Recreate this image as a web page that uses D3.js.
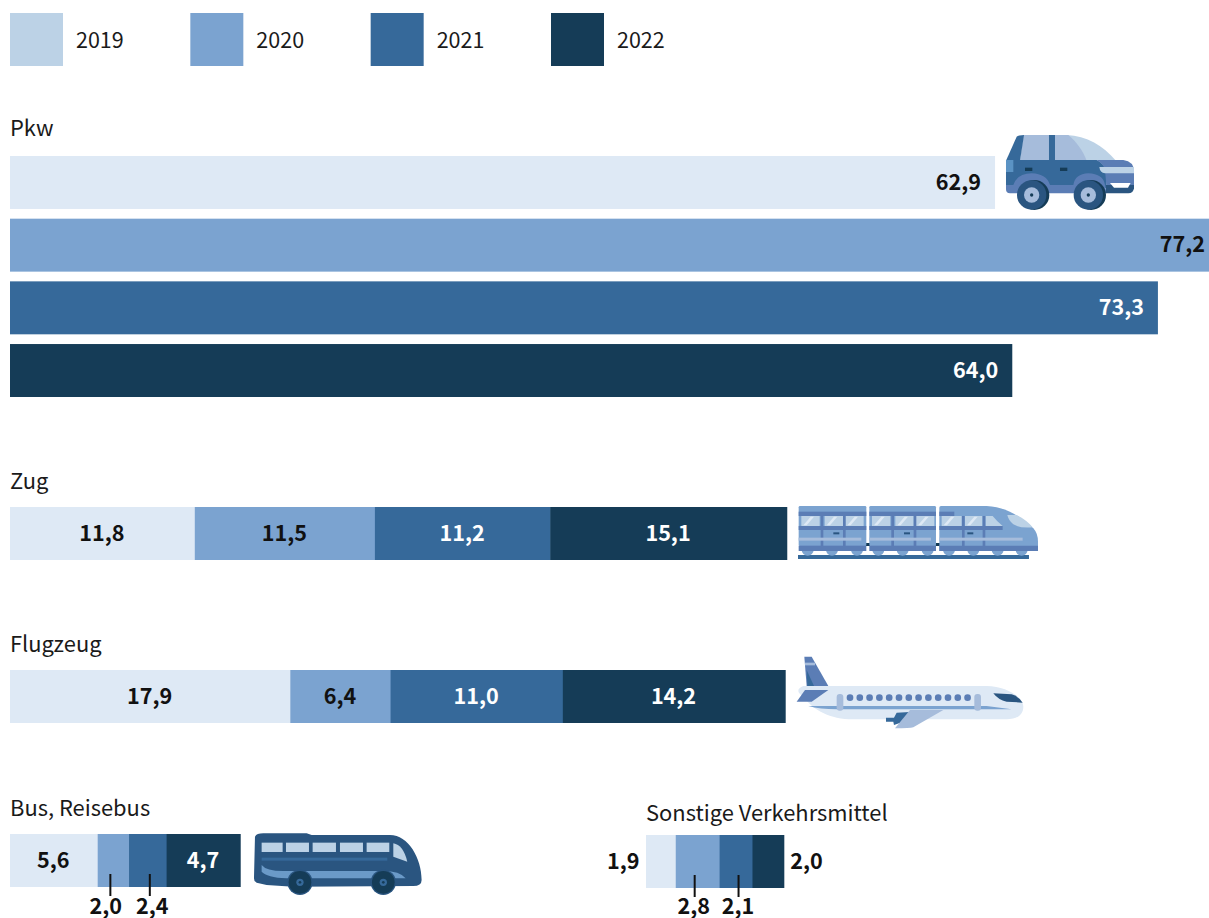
<!DOCTYPE html>
<html>
<head>
<meta charset="utf-8">
<script src="https://cdn.jsdelivr.net/npm/d3@7"></script>
<style>
  html, body { margin: 0; padding: 0; background: #fff; overflow: hidden; }
  svg { display: block; font-family: "Noto Sans CJK SC", "Noto Sans", sans-serif; }
  .title { font-size: 21.9px; fill: #1a1a1a; }
  .legend-label { font-size: 21.5px; fill: #1a1a1a; }
  .value { font-size: 21.6px; font-weight: 700; }
</style>
</head>
<body>
<svg id="chart" width="1209" height="918"></svg>
<script>
const years = ['2019', '2020', '2021', '2022']
const pkw = [62.9, 77.2, 73.3, 64.0]
const zug = [11.8, 11.5, 11.2, 15.1]
const flugzeug = [17.9, 6.4, 11.0, 14.2]
const bus = [5.6, 2.0, 2.4, 4.7]
const sonstige = [1.9, 2.8, 2.1, 2.0]

const colors = ['#dee9f5', '#7ba3d0', '#36699a', '#153c57']
const legendColors = ['#bcd2e6', '#7ba3d0', '#36699a', '#153c57']
const labelColors = ['#111', '#111', '#fff', '#fff']
const svg = d3.select('#chart')

const color = d3.scaleOrdinal().domain(years).range(colors)
const legendColor = d3.scaleOrdinal().domain(years).range(legendColors)
const labelColor = d3.scaleOrdinal().domain(years).range(labelColors)
const width = d3.scaleLinear().domain([0, 77.2]).range([0, 1209])
const fmt = (v) => v.toFixed(1).replace('.', ',')

// legend
const legendX = d3.scalePoint().domain(years).range([10, 551])
const legend = svg.selectAll('.legend').data(years).enter().append('g')
  .attr('transform', (d) => 'translate(' + legendX(d) + ',13)')
legend.append('rect').attr('width', 53).attr('height', 53).attr('fill', (d) => legendColor(d))
legend.append('text').attr('class', 'legend-label').attr('x', 66).attr('y', 35).text((d) => d)

let title = (text, x, y) => svg.append('text').attr('class', 'title').attr('x', x).attr('y', y).text(text)
let valueText = (text, x, y, anchor, fill) => svg.append('text').attr('class', 'value')
  .attr('x', x).attr('y', y).attr('text-anchor', anchor).attr('fill', fill).text(text)

// Pkw: one bar per year
title('Pkw', 10, 136)
const pkwY = d3.scaleBand().domain(years).range([156, 397]).paddingInner(0.155)
pkw.forEach((v, i) => {
  let y = years[i]
  let w = width(v)
  svg.append('rect').attr('x', 10).attr('y', pkwY(y)).attr('width', w).attr('height', pkwY.bandwidth()).attr('fill', color(y))
  valueText(fmt(v), Math.min(10 + w - 14, 1209), pkwY(y) + 33.5, 'end', labelColor(y))
})

// stacked rows
let stacked = (values, x0, y0, inside) => {
  let cum = d3.cumsum(values)
  return values.map((v, i) => {
    let x = x0 + width(cum[i] - v)
    let w = width(v)
    let y = years[i]
    svg.append('rect').attr('x', x).attr('y', y0).attr('width', w + 0.5).attr('height', 53).attr('fill', color(y))
    if (inside[i]) valueText(fmt(v), x + w / 2 - 0.5, y0 + 33.5, 'middle', labelColor(y))
    return { x: x, w: w, v: v, mid: x + w / 2 }
  })
}

title('Zug', 10, 489)
stacked(zug, 10, 507, [1, 1, 1, 1])
title('Flugzeug', 10, 652)
stacked(flugzeug, 10, 670, [1, 1, 1, 1])

let leader = (seg, dx, textDx, y0) => {
  svg.append('line').attr('x1', seg.mid + dx).attr('x2', seg.mid + dx).attr('y1', y0 + 40).attr('y2', y0 + 62)
    .attr('stroke', '#111').attr('stroke-width', 2)
  valueText(fmt(seg.v), seg.mid + textDx, 913.5, 'middle', '#111')
}

title('Bus, Reisebus', 10, 816)
const busSegs = stacked(bus, 10, 834, [1, 0, 0, 1])
leader(busSegs[1], -3, -7.5, 834)
leader(busSegs[2], 2, 4.5, 834)

title('Sonstige Verkehrsmittel', 646, 821)
const otherSegs = stacked(sonstige, 646, 835, [0, 0, 0, 0])
leader(otherSegs[1], -3, -4, 835)
leader(otherSegs[2], 2.5, 2, 835)
valueText(fmt(sonstige[0]), otherSegs[0].x - 6.5, 868.5, 'end', '#111')
valueText(fmt(sonstige[3]), otherSegs[3].x + otherSegs[3].w + 6.5, 868.5, 'start', '#111')

// icons, drawn in 3x zoom coordinates
const c1 = '#bcd2e6', c2 = '#a6bcdb', c3 = '#7ba3d0', c4 = '#5b7db5', c5 = '#36699a', c6 = '#2a5580', c7 = '#153c57'
let icon = (x, y) => svg.append('g').attr('transform', 'translate(' + x + ',' + y + ') scale(0.3333)')
let path = (g, d, fill) => g.append('path').attr('d', d).attr('fill', fill)
let box = (g, x, y, w, h, fill, r) => g.append('rect').attr('x', x).attr('y', y).attr('width', w).attr('height', h).attr('fill', fill).attr('rx', r || 0)
let dot = (g, x, y, r, fill) => g.append('circle').attr('cx', x).attr('cy', y).attr('r', r).attr('fill', fill)

// car
let car = icon(990, 120)
path(car, 'M200,45 L230,45 C290,47 340,78 378,122 L200,122 Z', c1)
path(car, 'M100,45 L235,45 C260,65 280,95 290,122 L90,122 Z', c2)
path(car, 'M80,50 Q85,45 102,45 L90,122 L48,122 Z', c5)
box(car, 177, 45, 18, 78, c5)
path(car, 'M48,120 L320,120 Q345,130 350,160 L350,205 L48,205 Z', c5)
path(car, 'M320,120 L400,120 Q432,124 432,155 L432,205 L350,205 L345,150 Q340,130 320,120 Z', c4)
box(car, 48, 120, 22, 36, '#5b93c4')
path(car, 'M328,141 L432,141 L432,160 L345,160 Q330,158 328,141 Z', c1)
path(car, 'M48,195 L70,195 Q80,162 125,160 Q170,162 180,195 L250,195 Q255,162 295,160 Q340,162 345,195 L350,220 L60,220 Q48,220 48,208 Z', c4)
path(car, 'M348,195 L432,195 L432,205 Q430,220 415,220 L348,220 Z', c6)
path(car, 'M360,189 L422,189 L414,203 L372,203 Z', '#fff')
box(car, 105, 143, 22, 10, c7)
box(car, 210, 143, 22, 10, c7)
;[125, 295].forEach((cx) => {
  dot(car, cx + 8, 225, 45, c7)
  dot(car, cx, 225, 44, c6)
  dot(car, cx, 225, 23, c2)
  dot(car, cx, 225, 5, c7)
})

// train
let train = icon(790, 495)
let glare = (x, y) => path(train, 'M' + (x + 6) + ',' + (y + 28) + ' L' + (x + 28) + ',' + (y + 2) + ' L' + (x + 38) + ',' + (y + 2) + ' L' + (x + 16) + ',' + (y + 28) + ' Z', '#dee9f5')
box(train, 24, 180, 693, 12, c5)
box(train, 226, 144, 14, 9, c7)
box(train, 436, 144, 14, 9, c7)
;[[26, 203], [238, 200]].forEach((p) => {
  let x = p[0], w = p[1]
  ;[27, 100, 175].forEach((o) => dot(train, x + o, 164, 18, c3))
  box(train, x, 33, w, 120, c3, 4)
  box(train, x, 50, w, 13, c4)
  box(train, x, 93, w, 12, c4)
  ;[8, 78, 140].forEach((o) => { box(train, x + o, 63, 55, 30, c1); glare(x + o, 63) })
  box(train, x + 66, 63, 8, 90, c4)
  box(train, x + 133, 63, 8, 90, c4)
  box(train, x, 128, w - 15, 9, c2)
  box(train, x, 152, w, 16, c4)
  box(train, x + 104, 112, 18, 6, c6)
})
;[477, 550, 623, 695].forEach((cx) => dot(train, cx, 164, 18, c3))
path(train, 'M448,38 Q448,33 453,33 L590,33 C650,35 700,70 730,100 Q744,115 744,140 L744,168 L448,168 Z', c3)
box(train, 448, 50, 45, 13, c4)
box(train, 448, 93, 190, 12, c4)
path(train, 'M448,152 L744,152 L744,168 L448,168 Z', c4)
box(train, 455, 63, 60, 30, c1)
glare(455, 63)
box(train, 525, 63, 52, 30, c1)
glare(525, 63)
path(train, 'M587,63 L608,63 Q620,78 638,93 L587,93 Z', c1)
box(train, 516, 63, 8, 90, c4)
box(train, 578, 63, 8, 90, c4)
box(train, 448, 128, 250, 9, c2)
box(train, 532, 112, 18, 6, c6)
path(train, 'M652,60 L680,60 Q710,75 728,97 Q690,100 670,88 Q655,75 652,60 Z', c1)

// plane
let plane = icon(790, 650)
path(plane, 'M43,20 L65,20 L115,108 L50,108 Z', c4)
box(plane, 45, 38, 30, 8, c2)
path(plane, 'M50,60 L72,108 L52,108 Z', c5)
path(plane, 'M40,108 L590,108 C650,110 700,140 700,170 C700,195 680,208 650,208 L190,208 C120,208 70,180 40,140 Q10,120 40,108 Z', colors[0])
path(plane, 'M55,168 L590,168 L665,178 L140,178 Q90,178 55,168 Z', c3)
path(plane, 'M45,120 L115,120 L65,155 L20,155 Z', c4)
d3.range(13).forEach((i) => dot(plane, 180 + i * 29.4, 143, 10, c4))
box(plane, 140, 132, 20, 50, c2, 9)
box(plane, 553, 132, 20, 50, c2, 9)
path(plane, 'M610,130 L665,133 Q688,140 698,158 L650,155 Q625,150 610,130 Z', c6)
path(plane, 'M288,203 L312,203 L320,188 L372,185 L340,215 L312,225 L310,215 L288,215 Z', c5)
path(plane, 'M360,180 L460,180 L370,232 Q360,235 315,235 Z', c2)

// bus
let coach = icon(0, 790)
path(coach, 'M765,140 Q770,130 790,130 L920,130 L935,135 L1170,135 C1225,135 1265,205 1265,270 Q1265,288 1240,288 L880,290 L800,285 L770,278 Q762,275 762,265 Z', c6)
;[[785, 63], [858, 69], [938, 70], [1020, 69], [1100, 68]].forEach((p) => box(coach, p[0], 158, p[1], 28, c1))
path(coach, 'M1180,160 Q1210,165 1222,215 L1180,200 Z', c1)
box(coach, 785, 203, 377, 9, c5)
path(coach, 'M785,225 Q800,245 860,243 L1150,243 Q1200,243 1217,265 L860,265 Q800,262 785,245 Z', '#6b9ac8')
;[900, 1150].forEach((cx) => {
  dot(coach, cx, 277, 38, c6)
  dot(coach, cx, 277, 34, c7)
  dot(coach, cx, 277, 11, c5)
  dot(coach, cx, 277, 4, c7)
})
</script>
</body>
</html>
